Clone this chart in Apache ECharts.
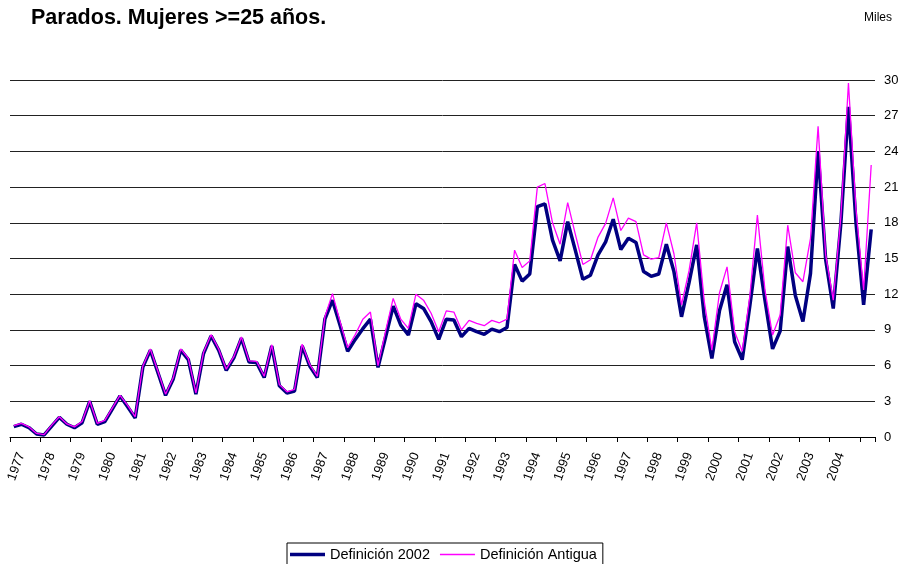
<!DOCTYPE html>
<html>
<head>
<meta charset="utf-8">
<script src="https://cdn.jsdelivr.net/npm/echarts@6/dist/echarts.min.js"></script>
<style>
  html, body { margin: 0; padding: 0; background: #fff; }
  #chart { width: 903px; height: 564px; }
</style>
</head>
<body>
<div id="chart"></div>
<script>
// Years on the category axis (4 quarters each, plus 2005 I-II)
const years = [1977,1978,1979,1980,1981,1982,1983,1984,1985,1986,1987,1988,1989,1990,
               1991,1992,1993,1994,1995,1996,1997,1998,1999,2000,2001,2002,2003,2004,2005];
const quarters = ['I','II','III','IV'];
const yTicks = [0,3,6,9,12,15,18,21,24,27,30];

// Definición 2002 (miles)
const def2002 = [
  0.87,1.07,0.78,0.25, 0.17,0.92,1.65,1.07, 0.78,1.2,3.0,1.07, 1.3,2.37,3.45,2.55,
  1.6,5.85,7.3,5.4, 3.5,4.85,7.3,6.5, 3.6,7.0,8.5,7.3, 5.6,6.65,8.3,6.3,
  6.25,5.0,7.65,4.3, 3.7,3.87,7.65,5.97, 5.0,9.9,11.5,9.4, 7.2,8.2,9.1,9.9,
  5.85,8.4,11.0,9.4, 8.57,11.2,10.8,9.7, 8.2,9.9,9.83,8.43, 9.13,8.85,8.63,9.07,
  8.85,9.2,14.5,13.1, 13.7,19.35,19.6,16.55, 14.8,18.1,15.7,13.25, 13.6,15.3,16.4,18.3,
  15.75,16.7,16.35,13.9, 13.5,13.7,16.2,13.9, 10.1,13.0,16.15,10.1, 6.6,10.6,12.8,8.0,
  6.5,11.0,15.85,11.5, 7.4,8.9,16.0,11.9, 9.7,13.75,24.0,14.9, 10.8,17.95,27.75,17.95,
  11.1,17.45
];

// Definición Antigua (miles)
const defAntigua = [
  0.95,1.15,0.85,0.3, 0.2,1.0,1.7,1.1, 0.85,1.3,3.05,1.15, 1.4,2.45,3.5,2.65,
  1.7,5.95,7.4,5.5, 3.6,4.95,7.4,6.6, 3.7,7.1,8.6,7.4, 5.7,6.75,8.4,6.4,
  6.35,5.1,7.75,4.4, 3.8,4.0,7.8,6.1, 5.1,10.1,12.05,9.7, 7.5,8.6,9.9,10.5,
  6.0,8.9,11.65,9.9, 9.13,12.0,11.5,10.4, 8.85,10.6,10.5,9.0, 9.8,9.55,9.35,9.8,
  9.6,9.9,15.7,14.25, 14.8,21.0,21.3,18.0, 16.2,19.7,17.05,14.5, 14.9,16.8,17.95,20.1,
  17.35,18.4,18.1,15.3, 14.95,15.07,18.0,15.4, 11.1,14.0,18.0,11.4, 7.3,12.1,14.3,8.85,
  7.2,11.8,18.65,12.35, 8.57,10.25,17.8,13.8, 13.05,16.7,26.1,15.3, 11.5,18.5,29.75,19.1,
  12.35,22.85
];

const categories = [];
for (const y of years) for (const q of quarters) {
  if (categories.length < def2002.length) categories.push(y + ' ' + q);
}
const lastLabelYear = 2004;

const FONT = "'Liberation Sans', Arial, sans-serif";
const chart = echarts.init(document.getElementById('chart'), null, { renderer: 'canvas' });
chart.setOption({
  animation: false,
  backgroundColor: '#ffffff',
  title: {
    text: 'Parados. Mujeres >=25 años.',
    left: 26, top: 2,
    textStyle: { fontFamily: FONT, fontSize: 21.5, fontWeight: 'bold', color: '#000' }
  },
  graphic: [{
    type: 'text', left: 864, top: 12,
    style: { text: 'Miles', fontFamily: FONT, fontSize: 12, fill: '#000' }
  }],
  legend: {
    left: 287, top: 543,
    orient: 'horizontal',
    borderColor: '#000', borderWidth: 1,
    padding: [4, 6, 4, 3],
    itemWidth: 35, itemHeight: 14, itemGap: 10,
    symbolKeepAspect: true,
    textStyle: { fontFamily: FONT, fontSize: 14.5, color: '#000' },
    data: [
      { name: 'Definición 2002', icon: 'path://M0,0H35V3.5H0Z', itemStyle: { color: '#000080' } },
      { name: 'Definición Antigua', icon: 'path://M0,0H35V1.3H0Z', itemStyle: { color: '#ff00ff' } }
    ]
  },
  grid: { left: 10, right: 28, top: 80, bottom: 127 },
  xAxis: {
    type: 'category',
    data: categories,
    boundaryGap: true,
    axisLine: { lineStyle: { color: '#000', width: 1 } },
    axisTick: {
      show: true, length: 5, lineStyle: { color: '#000' },
      interval: function (i) { return i % 4 === 0; }
    },
    axisLabel: {
      interval: function (i, v) { return i % 4 === 1 && +v.split(' ')[0] <= lastLabelYear; },
      formatter: function (v) { return v.split(' ')[0]; },
      rotate: 70, margin: 16,
      fontFamily: FONT, fontSize: 13, color: '#000'
    },
    splitLine: { show: false }
  },
  yAxis: {
    type: 'value',
    position: 'right',
    min: yTicks[0], max: yTicks[yTicks.length - 1], interval: 3,
    axisLine: { show: false },
    axisTick: { show: false },
    axisLabel: { margin: 9, fontFamily: FONT, fontSize: 13, color: '#000' },
    splitLine: { lineStyle: { color: '#222', width: 1 } }
  },
  series: [
    {
      name: 'Definición 2002', type: 'line', data: def2002,
      symbol: 'none', smooth: false,
      lineStyle: { color: '#000080', width: 3.5 },
      itemStyle: { color: '#000080' }
    },
    {
      name: 'Definición Antigua', type: 'line', data: defAntigua,
      symbol: 'none', smooth: false,
      lineStyle: { color: '#ff00ff', width: 1.3 },
      itemStyle: { color: '#ff00ff' }
    }
  ]
});
</script>
</body>
</html>
